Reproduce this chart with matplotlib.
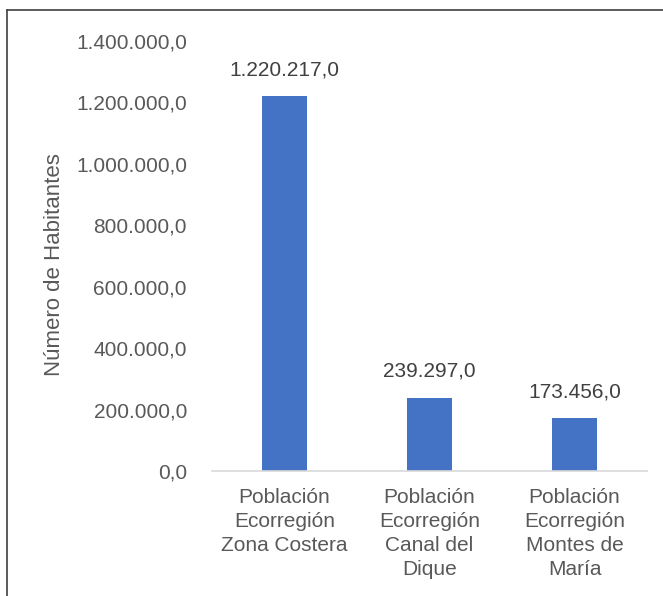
import matplotlib
matplotlib.use("Agg")
import matplotlib.pyplot as plt
from matplotlib.lines import Line2D

categories = ["Población\nEcorregión\nZona Costera",
              "Población\nEcorregión\nCanal del\nDique",
              "Población\nEcorregión\nMontes de\nMaría"]
values = [1220217.0, 239297.0, 173456.0]
yticks = [0, 200000, 400000, 600000, 800000, 1000000, 1200000, 1400000]

def fmt(v):
    s = f"{v:,.1f}"
    return s.replace(",", "X").replace(".", ",").replace("X", ".")

plt.rcParams['font.family'] = ['Liberation Sans', 'DejaVu Sans']
txt = "#595959"
FS = 15

fig = plt.figure(figsize=(6.63, 5.96), dpi=100)
ax = fig.add_axes([212/663, 1-471/596, 435/663, (471-41)/596])
x = list(range(len(categories)))
ax.bar(x, values, width=0.31, color="#4472C4", zorder=2)
ax.set_xlim(-0.5, 2.5)
ax.set_ylim(0, 1400000)
ax.set_yticks(yticks)
ax.set_yticklabels([fmt(v) for v in yticks], fontsize=FS, color=txt)
ax.set_xticks(x)
ax.set_xticklabels(categories, fontsize=FS, color=txt, linespacing=1.35)
ax.tick_params(axis='both', length=0)
ax.tick_params(axis='y', pad=18)
ax.tick_params(axis='x', pad=12)
for s in ['top', 'right', 'left']:
    ax.spines[s].set_visible(False)
ax.spines['bottom'].set_color("#d9d9d9")
ax.spines['bottom'].set_linewidth(1.2)
for xi, v in zip(x, values):
    ax.annotate(fmt(v), (xi, v), xytext=(0, 12), textcoords='offset points',
                ha='center', va='bottom', fontsize=FS, color="#404040")
fig.text(55/663, 1-265/596, "Número de Habitantes", rotation=90,
         ha='center', va='center', fontsize=16, color=txt)
# chart frame (top and left edges)
fig.add_artist(Line2D([7/663, 1], [1-10/596, 1-10/596], transform=fig.transFigure, color="#404040", lw=1.2))
fig.add_artist(Line2D([7/663, 7/663], [0, 1-10/596], transform=fig.transFigure, color="#404040", lw=1.2))
fig.savefig("out.png", dpi=100)
